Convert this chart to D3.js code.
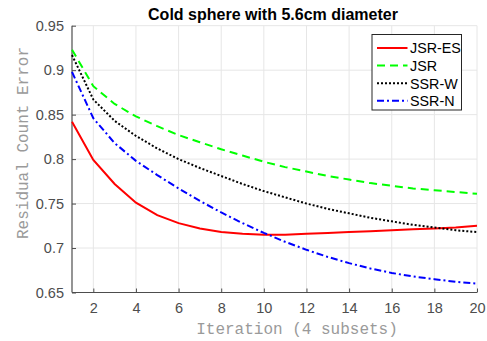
<!DOCTYPE html>
<html><head><meta charset="utf-8">
<script src="https://cdn.jsdelivr.net/npm/d3@7"></script>
<style>body{margin:0;background:#fff}</style>
</head><body>
<svg id="c" width="487" height="341"></svg>
<script>
const iterations = d3.range(1, 21);
const jsrES = [0.842,0.799,0.772,0.751,0.737,0.728,0.722,0.718,0.716,0.715,0.715,0.716,0.717,0.718,0.719,0.720,0.721,0.722,0.723,0.725];
const jsr   = [0.923,0.882,0.862,0.848,0.837,0.827,0.819,0.811,0.804,0.797,0.791,0.786,0.781,0.777,0.773,0.770,0.767,0.765,0.763,0.761];
const ssrW  = [0.917,0.867,0.843,0.826,0.812,0.800,0.790,0.781,0.772,0.764,0.757,0.750,0.744,0.739,0.734,0.730,0.726,0.723,0.720,0.718];
const ssrN  = [0.898,0.846,0.818,0.798,0.782,0.767,0.753,0.740,0.728,0.717,0.707,0.698,0.690,0.683,0.677,0.672,0.668,0.665,0.662,0.660];
const seriesNames = ["JSR-ES","JSR","SSR-W","SSR-N"];
const xTicks = [2,4,6,8,10,12,14,16,18,20];
const yTicks = [0.65,0.7,0.75,0.8,0.85,0.9,0.95];

const series = [
  {name: seriesNames[0], values: jsrES, color: "#ff0000", dash: null, w: 2},
  {name: seriesNames[1], values: jsr,   color: "#00ff00", dash: "8,5", w: 2},
  {name: seriesNames[2], values: ssrW,  color: "#000000", dash: "2,2", w: 2},
  {name: seriesNames[3], values: ssrN,  color: "#0000ff", dash: "7,3,2,3", w: 2}
];

const L = 72, R = 477, T = 25.7, B = 292.5;
const svg = d3.select("#c");
const x = d3.scaleLinear().domain([1,20]).range([L,R]);
const y = d3.scaleLinear().domain([0.65,0.95]).range([B,T]);

// grid
const g = svg.append("g");
g.selectAll("line.gx").data(xTicks).join("line")
  .attr("x1", d=>x(d)).attr("x2", d=>x(d)).attr("y1", T).attr("y2", B)
  .attr("stroke", "#e6e6e6").attr("stroke-width", 1);
g.selectAll("line.gy").data(yTicks).join("line")
  .attr("x1", L).attr("x2", R).attr("y1", d=>y(d)).attr("y2", d=>y(d))
  .attr("stroke", "#e6e6e6").attr("stroke-width", 1);

// axes
const xAxis = d3.axisBottom(x).tickValues(xTicks).tickSize(-4).tickPadding(10).tickFormat(d3.format("d"));
const yAxis = d3.axisLeft(y).tickValues(yTicks).tickSize(-4).tickPadding(8).tickFormat(d=>String(d));
const gx = svg.append("g").attr("transform", `translate(0,${B})`).call(xAxis);
const gy = svg.append("g").attr("transform", `translate(${L},0)`).call(yAxis);
[gx, gy].forEach(a => {
  a.select(".domain").attr("stroke", "#4d4d4d").attr("stroke-width", 1.2);
  a.selectAll(".tick line").attr("stroke", "#4d4d4d");
  a.selectAll(".tick text").attr("fill", "#4d4d4d").attr("font-family", "Liberation Sans, Arial, sans-serif").attr("font-size", 14.5);
});
gx.select(".domain").attr("d", `M${L},0H${R}`);
gy.select(".domain").attr("d", `M0,${B}V${T}`);

// lines
const line = d3.line().x((d,i)=>x(iterations[i])).y(d=>y(d));
svg.append("g").selectAll("path").data(series).join("path")
  .attr("d", d=>line(d.values)).attr("fill","none")
  .attr("stroke", d=>d.color).attr("stroke-width", d=>d.w)
  .attr("stroke-dasharray", d=>d.dash);

// title
svg.append("text").attr("x", 273).attr("y", 20).attr("text-anchor","middle")
  .attr("font-family","Liberation Sans, Arial, sans-serif").attr("font-weight","bold").attr("font-size",16)
  .attr("fill","#000").text("Cold sphere with 5.6cm diameter");

// axis labels
svg.append("text").attr("x", 297).attr("y", 334).attr("text-anchor","middle")
  .attr("font-family","Liberation Mono, Courier New, monospace").attr("font-size",16)
  .attr("fill","#9a9a9a").text("Iteration (4 subsets)");
svg.append("text").attr("transform","translate(28,143) rotate(-90)").attr("text-anchor","middle")
  .attr("font-family","Liberation Mono, Courier New, monospace").attr("font-size",16)
  .attr("fill","#9a9a9a").text("Residual Count Error");

// legend
const lg = svg.append("g");
lg.append("rect").attr("x",372).attr("y",34.5).attr("width",89.5).attr("height",75.5)
  .attr("fill","#fff").attr("stroke","#262626").attr("stroke-width",1);
const rows = lg.selectAll("g.row").data(series).join("g")
  .attr("transform",(d,i)=>`translate(0,${48 + i*17.6})`);
rows.append("line").attr("x1",377).attr("x2",407.5).attr("y1",0).attr("y2",0)
  .attr("stroke",d=>d.color).attr("stroke-width",d=>d.w).attr("stroke-dasharray",d=>d.dash);
rows.append("text").attr("x",410).attr("y",5.3).attr("font-family","Liberation Sans, Arial, sans-serif")
  .attr("font-size",14.3).attr("fill","#000").text(d=>d.name);
</script>
</body></html>
